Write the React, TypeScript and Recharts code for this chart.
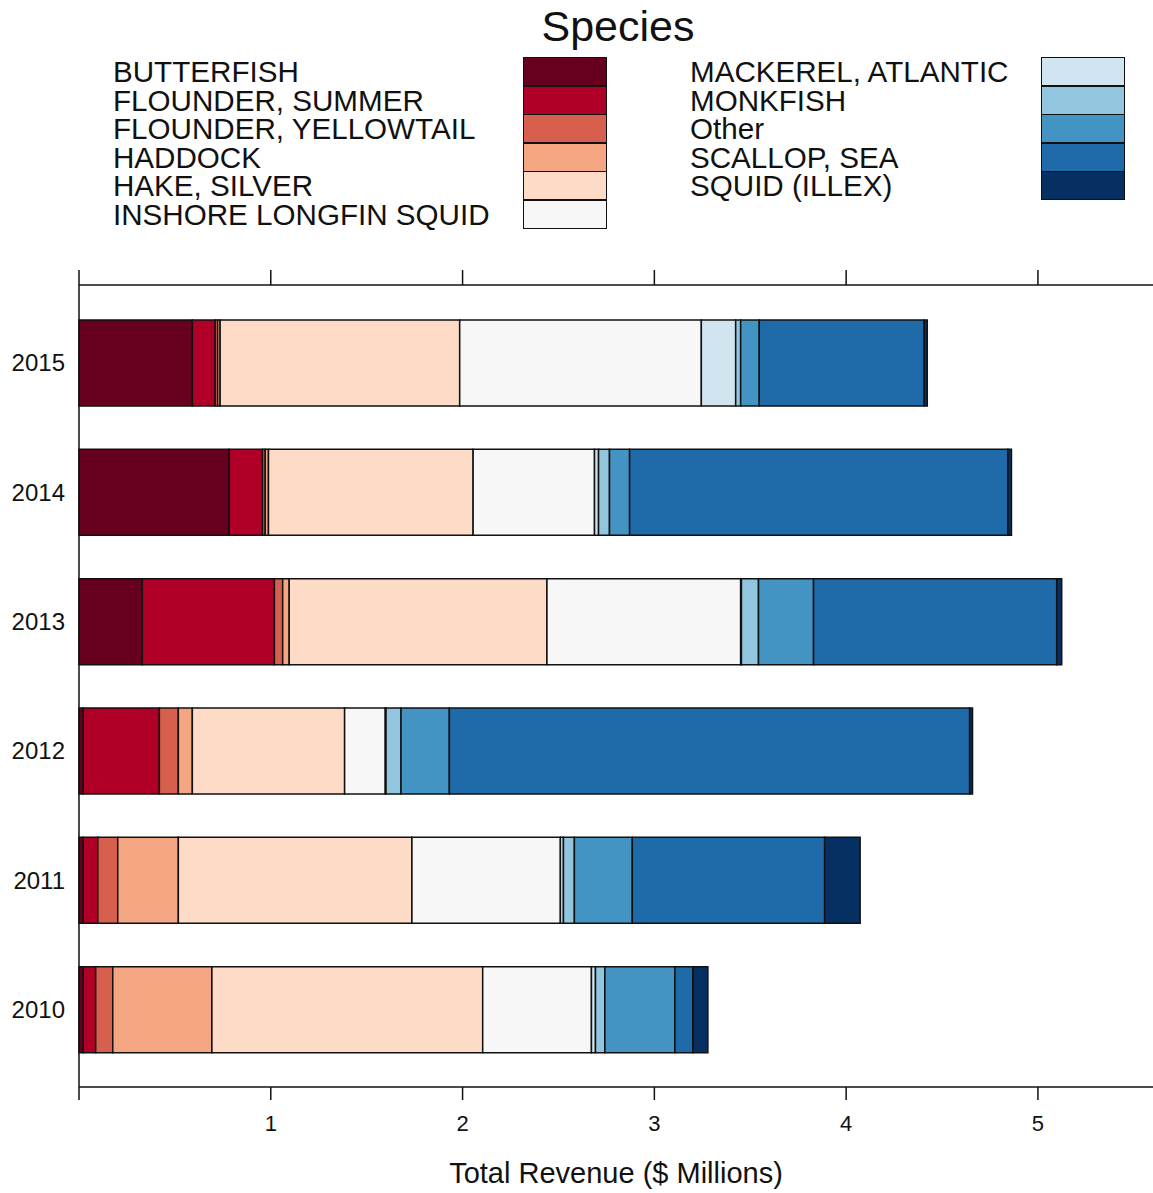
import React from "react";
import { ComposedChart, Bar, Line, XAxis, YAxis } from "recharts";

// revenue by year, $ millions, top bar first
const years = ["2015", "2014", "2013", "2012", "2011", "2010"];

const butterfish = [0.591, 0.783, 0.33, 0.022, 0.022, 0.022];
const flounderSummer = [0.119, 0.174, 0.689, 0.397, 0.076, 0.065];
const flounderYellowtail = [0.013, 0.014, 0.043, 0.099, 0.104, 0.089];
const haddock = [0.013, 0.017, 0.034, 0.073, 0.316, 0.517];
const hakeSilver = [1.249, 1.067, 1.344, 0.794, 1.218, 1.412];
const longfinSquid = [1.26, 0.633, 1.01, 0.212, 0.774, 0.567];
const mackerel = [0.179, 0.021, 0.004, 0.004, 0.016, 0.021];
const monkfish = [0.026, 0.057, 0.089, 0.078, 0.057, 0.049];
const other = [0.097, 0.105, 0.287, 0.252, 0.302, 0.365];
const scallop = [0.86, 1.972, 1.268, 2.713, 1.003, 0.094];
const illex = [0.016, 0.019, 0.026, 0.015, 0.185, 0.078];

const xTicks = [0, 1, 2, 3, 4, 5];

const species = [
    { key: "butterfish", label: "BUTTERFISH", color: "#67001f", values: butterfish },
    { key: "flounderSummer", label: "FLOUNDER, SUMMER", color: "#b10027", values: flounderSummer },
    { key: "flounderYellowtail", label: "FLOUNDER, YELLOWTAIL", color: "#d6604d", values: flounderYellowtail },
    { key: "haddock", label: "HADDOCK", color: "#f4a582", values: haddock },
    { key: "hakeSilver", label: "HAKE, SILVER", color: "#fddbc7", values: hakeSilver },
    { key: "longfinSquid", label: "INSHORE LONGFIN SQUID", color: "#f7f7f7", values: longfinSquid },
    { key: "mackerel", label: "MACKEREL, ATLANTIC", color: "#d1e5f0", values: mackerel },
    { key: "monkfish", label: "MONKFISH", color: "#92c5de", values: monkfish },
    { key: "other", label: "Other", color: "#4393c3", values: other },
    { key: "scallop", label: "SCALLOP, SEA", color: "#1f6aa9", values: scallop },
    { key: "illex", label: "SQUID (ILLEX)", color: "#053061", values: illex },
];

const data = years.map((year, i) => {
    const row: Record<string, string | number> = { year };
    species.forEach((s) => {
        row[s.key] = s.values[i];
    });
    return row;
});

const font = "'Liberation Sans', Arial, sans-serif";
const ink = "#111";

const LegendColumn = ({ items, textLeft, boxLeft }: { items: typeof species; textLeft: number; boxLeft: number }) => (
    <>
        {items.map((s, i) => (
            <React.Fragment key={s.key}>
                <div
                    style={{
                        position: "absolute",
                        left: textLeft,
                        top: 59 + i * 28.5,
                        height: 26,
                        lineHeight: "26px",
                        fontSize: 29.6,
                        color: ink,
                        whiteSpace: "nowrap",
                    }}
                >
                    {s.label}
                </div>
                <div
                    style={{
                        position: "absolute",
                        left: boxLeft,
                        top: 57 + i * 28.5,
                        width: 82,
                        height: 27,
                        background: s.color,
                        border: "1px solid #111",
                    }}
                />
            </React.Fragment>
        ))}
    </>
);

// top axis keeps its tick marks but shows no numbers
const NoLabel = () => <g />;

export default function App() {
    return (
        <div style={{ position: "absolute", left: 0, top: 0, width: 1153, height: 1193, background: "#fff", fontFamily: font }}>
            <div style={{ position: "absolute", left: 0, width: 1236, top: 2, textAlign: "center", fontSize: 43, color: ink }}>
                Species
            </div>
            <LegendColumn items={species.slice(0, 6)} textLeft={113} boxLeft={523} />
            <LegendColumn items={species.slice(6)} textLeft={690} boxLeft={1041} />

            <ComposedChart
                width={1153}
                height={1193}
                data={data}
                layout="vertical"
                margin={{ top: 270, right: 0, left: 0, bottom: 6 }}
                barSize={86}
                style={{ position: "absolute", left: 0, top: 0 }}
            >
                <XAxis
                    xAxisId="top"
                    orientation="top"
                    type="number"
                    domain={[0, 5.6]}
                    ticks={xTicks}
                    height={15}
                    tickSize={15}
                    tick={NoLabel}
                    tickLine={{ stroke: ink, strokeWidth: 1.5 }}
                    stroke={ink}
                    strokeWidth={1.5}
                />
                <XAxis
                    type="number"
                    domain={[0, 5.6]}
                    ticks={xTicks}
                    height={100}
                    tickSize={13}
                    tickMargin={15}
                    tickFormatter={(v: number) => (v === 0 ? "" : String(v))}
                    tick={{ fill: ink, fontSize: 22, fontFamily: font }}
                    stroke={ink}
                    strokeWidth={1.5}
                    label={{
                        value: "Total Revenue ($ Millions)",
                        position: "insideBottom",
                        offset: 4,
                        fill: ink,
                        fontSize: 29,
                        fontFamily: font,
                    }}
                />
                <YAxis
                    type="category"
                    dataKey="year"
                    width={79}
                    tickLine={false}
                    tickSize={0}
                    tickMargin={14}
                    padding={{ top: 13, bottom: 13 }}
                    tick={{ fill: ink, fontSize: 24, fontFamily: font }}
                    stroke={ink}
                    strokeWidth={1.5}
                />
                {species.map((s) => (
                    <Bar
                        key={s.key}
                        dataKey={s.key}
                        stackId="rev"
                        fill={s.color}
                        stroke="#111"
                        strokeWidth={1.5}
                        isAnimationActive={false}
                    />
                ))}
                {/* invisible series so the top axis gets its ticks */}
                <Line
                    xAxisId="top"
                    dataKey="butterfish"
                    stroke="transparent"
                    dot={false}
                    activeDot={false}
                    isAnimationActive={false}
                />
            </ComposedChart>
        </div>
    );
}
